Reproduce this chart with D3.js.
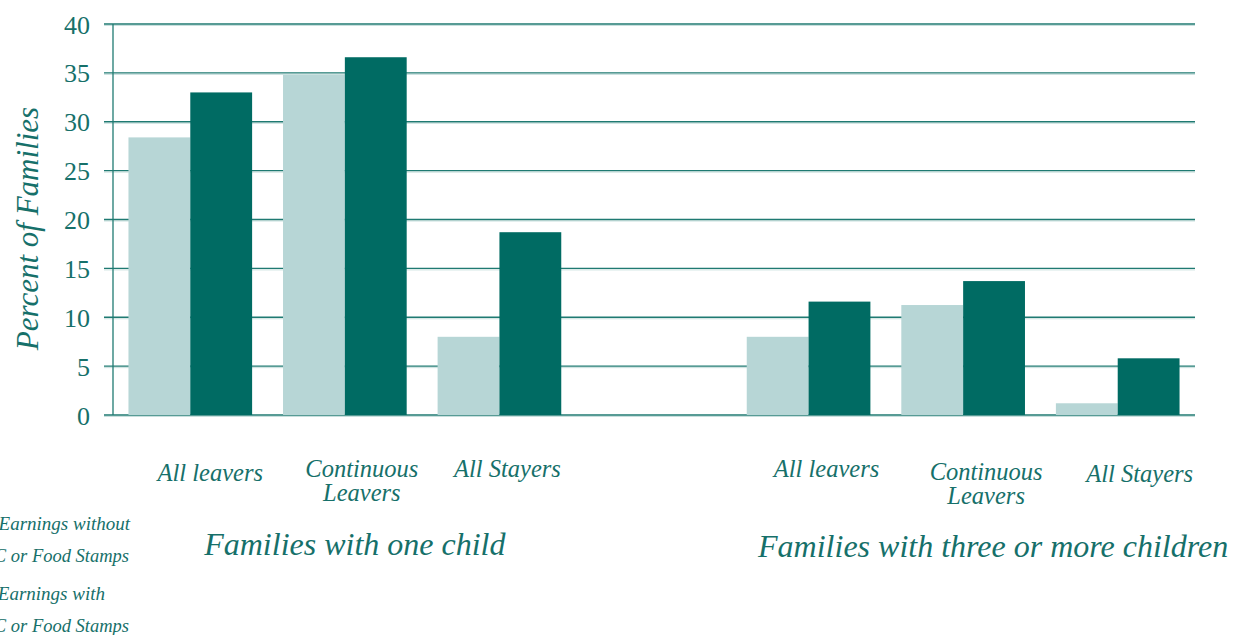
<!DOCTYPE html>
<html>
<head>
<meta charset="utf-8">
<script src="https://cdn.jsdelivr.net/npm/d3@7"></script>
<style>
  body { margin: 0; background: #fff; }
  text { font-family: "Liberation Serif", serif; fill: #16706a; }
</style>
</head>
<body>
<svg id="chart"></svg>
<script>
// data
const slots = ["g1a", "g1b", "g1c", "gap", "g2a", "g2b", "g2c"];
const catLabels = [["All leavers"], ["Continuous", "Leavers"], ["All Stayers"], [], ["All leavers"], ["Continuous", "Leavers"], ["All Stayers"]];
const withoutVals = [28.4, 34.8, 8.0, null, 8.0, 11.25, 1.2];
const withVals = [33.0, 36.6, 18.7, null, 11.6, 13.7, 5.8];
const groupTitles = ["Families with one child", "Families with three or more children"];
const seriesNames = [["Earnings without", "AFDC or Food Stamps"], ["Earnings with", "AFDC or Food Stamps"]];
const yTicks = [0, 5, 10, 15, 20, 25, 30, 35, 40];

const W = 1239, H = 635;
const margin = {top: 24, right: 44, bottom: 220, left: 113},
    width = W - margin.left - margin.right,
    height = H - margin.top - margin.bottom;
const light = "#b7d6d6", dark = "#006b63";

const svg = d3.select("#chart")
    .attr("width", W)
    .attr("height", H);
const g = svg.append("g")
    .attr("transform", `translate(${margin.left}, ${margin.top})`);

let x = d3.scaleBand()
    .domain(slots)
    .range([0, width])
    .paddingInner(0.2)
    .paddingOuter(0.1);
let xs = d3.scaleBand()
    .domain([0, 1])
    .range([0, x.bandwidth()]);
let y = d3.scaleLinear()
    .domain([0, 40])
    .range([height, 0]);

// gridlines
g.append("g").selectAll("line.shadow")
    .data(yTicks)
    .enter().append("line")
    .attr("x1", -9).attr("x2", width)
    .attr("y1", d => y(d) + 1.5).attr("y2", d => y(d) + 1.5)
    .attr("stroke", "#c8dfdd").attr("stroke-width", 1);
g.append("g").selectAll("line.grid")
    .data(yTicks)
    .enter().append("line")
    .attr("x1", -9).attr("x2", width)
    .attr("y1", d => y(d)).attr("y2", d => y(d))
    .attr("stroke", "#1f7a72").attr("stroke-width", 1.3);

// bars
const data = slots.map((s, i) => ({slot: s, vals: [withoutVals[i], withVals[i]]}))
    .filter(d => d.vals[0] !== null);
const bars = g.append("g").selectAll("g")
    .data(data)
    .enter().append("g")
    .attr("transform", d => `translate(${x(d.slot)}, 0)`);
bars.selectAll("rect")
    .data(d => d.vals)
    .enter().append("rect")
    .attr("x", (d, i) => xs(i))
    .attr("width", xs.bandwidth())
    .attr("y", d => y(d))
    .attr("height", d => height - y(d))
    .attr("fill", (d, i) => i === 0 ? light : dark);

// y axis
const yAxis = g.append("g")
    .call(d3.axisLeft(y).tickValues(yTicks).tickSize(9).tickPadding(14));
yAxis.select(".domain").attr("stroke", "#1f7a72").attr("stroke-width", 1.3)
    .attr("d", `M0,${height}V0`);
yAxis.selectAll(".tick line").remove();
yAxis.selectAll(".tick text")
    .style("font-family", "Liberation Serif, serif")
    .style("font-size", "26px")
    .attr("fill", "#16706a")
    .attr("dy", "0.35em");

g.append("text")
    .text("Percent of Families")
    .attr("transform", `translate(${-75}, ${height / 2 + 9}) rotate(-90)`)
    .style("font-size", "31px")
    .style("font-style", "italic")
    .attr("text-anchor", "middle");

// category labels
const labelY = [457, 453, 453, null, 453, 456, 458];
const labelDx = [20, 17, 8, 0, 18, 23, 22];
slots.forEach((s, i) => {
    if (!catLabels[i].length) return;
    const cx = x(s) + x.bandwidth() / 2 + labelDx[i];
    const t = g.append("text")
        .attr("x", cx)
        .attr("y", labelY[i])
        .style("font-size", "24.5px")
        .style("font-style", "italic")
        .attr("text-anchor", "middle");
    catLabels[i].forEach((l, j) => {
        t.append("tspan")
            .attr("x", cx)
            .attr("dy", j === 0 ? 0 : 24)
            .text(l);
    });
});

// group titles
const groupSlots = [["g1a", "g1c"], ["g2a", "g2c"]];
groupTitles.forEach((t, i) => {
    const cx = (x(groupSlots[i][0]) + x(groupSlots[i][1]) + x.bandwidth()) / 2;
    g.append("text")
        .text(t)
        .attr("x", cx + (i === 0 ? 10 : 30))
        .attr("y", 531 + i * 2)
        .style("font-size", "32px")
        .style("font-style", "italic")
        .attr("text-anchor", "middle");
});

// legend (swatches sit off the left edge, as in the source)
const legend = svg.append("g");
seriesNames.forEach((lines, i) => {
    legend.append("rect")
        .attr("x", -80).attr("y", 515 + i * 70)
        .attr("width", 20).attr("height", 20)
        .attr("fill", i === 0 ? light : dark);
    lines.forEach((l, j) => {
        legend.append("text")
            .text(l)
            .attr("x", j === 0 ? (i === 0 ? 130 : 105) : 129)
            .attr("y", 530 + i * 70 + j * 32)
            .style("font-size", j === 0 ? "19px" : "18.5px")
            .style("font-style", "italic")
            .attr("text-anchor", "end");
    });
});
</script>
</body>
</html>
